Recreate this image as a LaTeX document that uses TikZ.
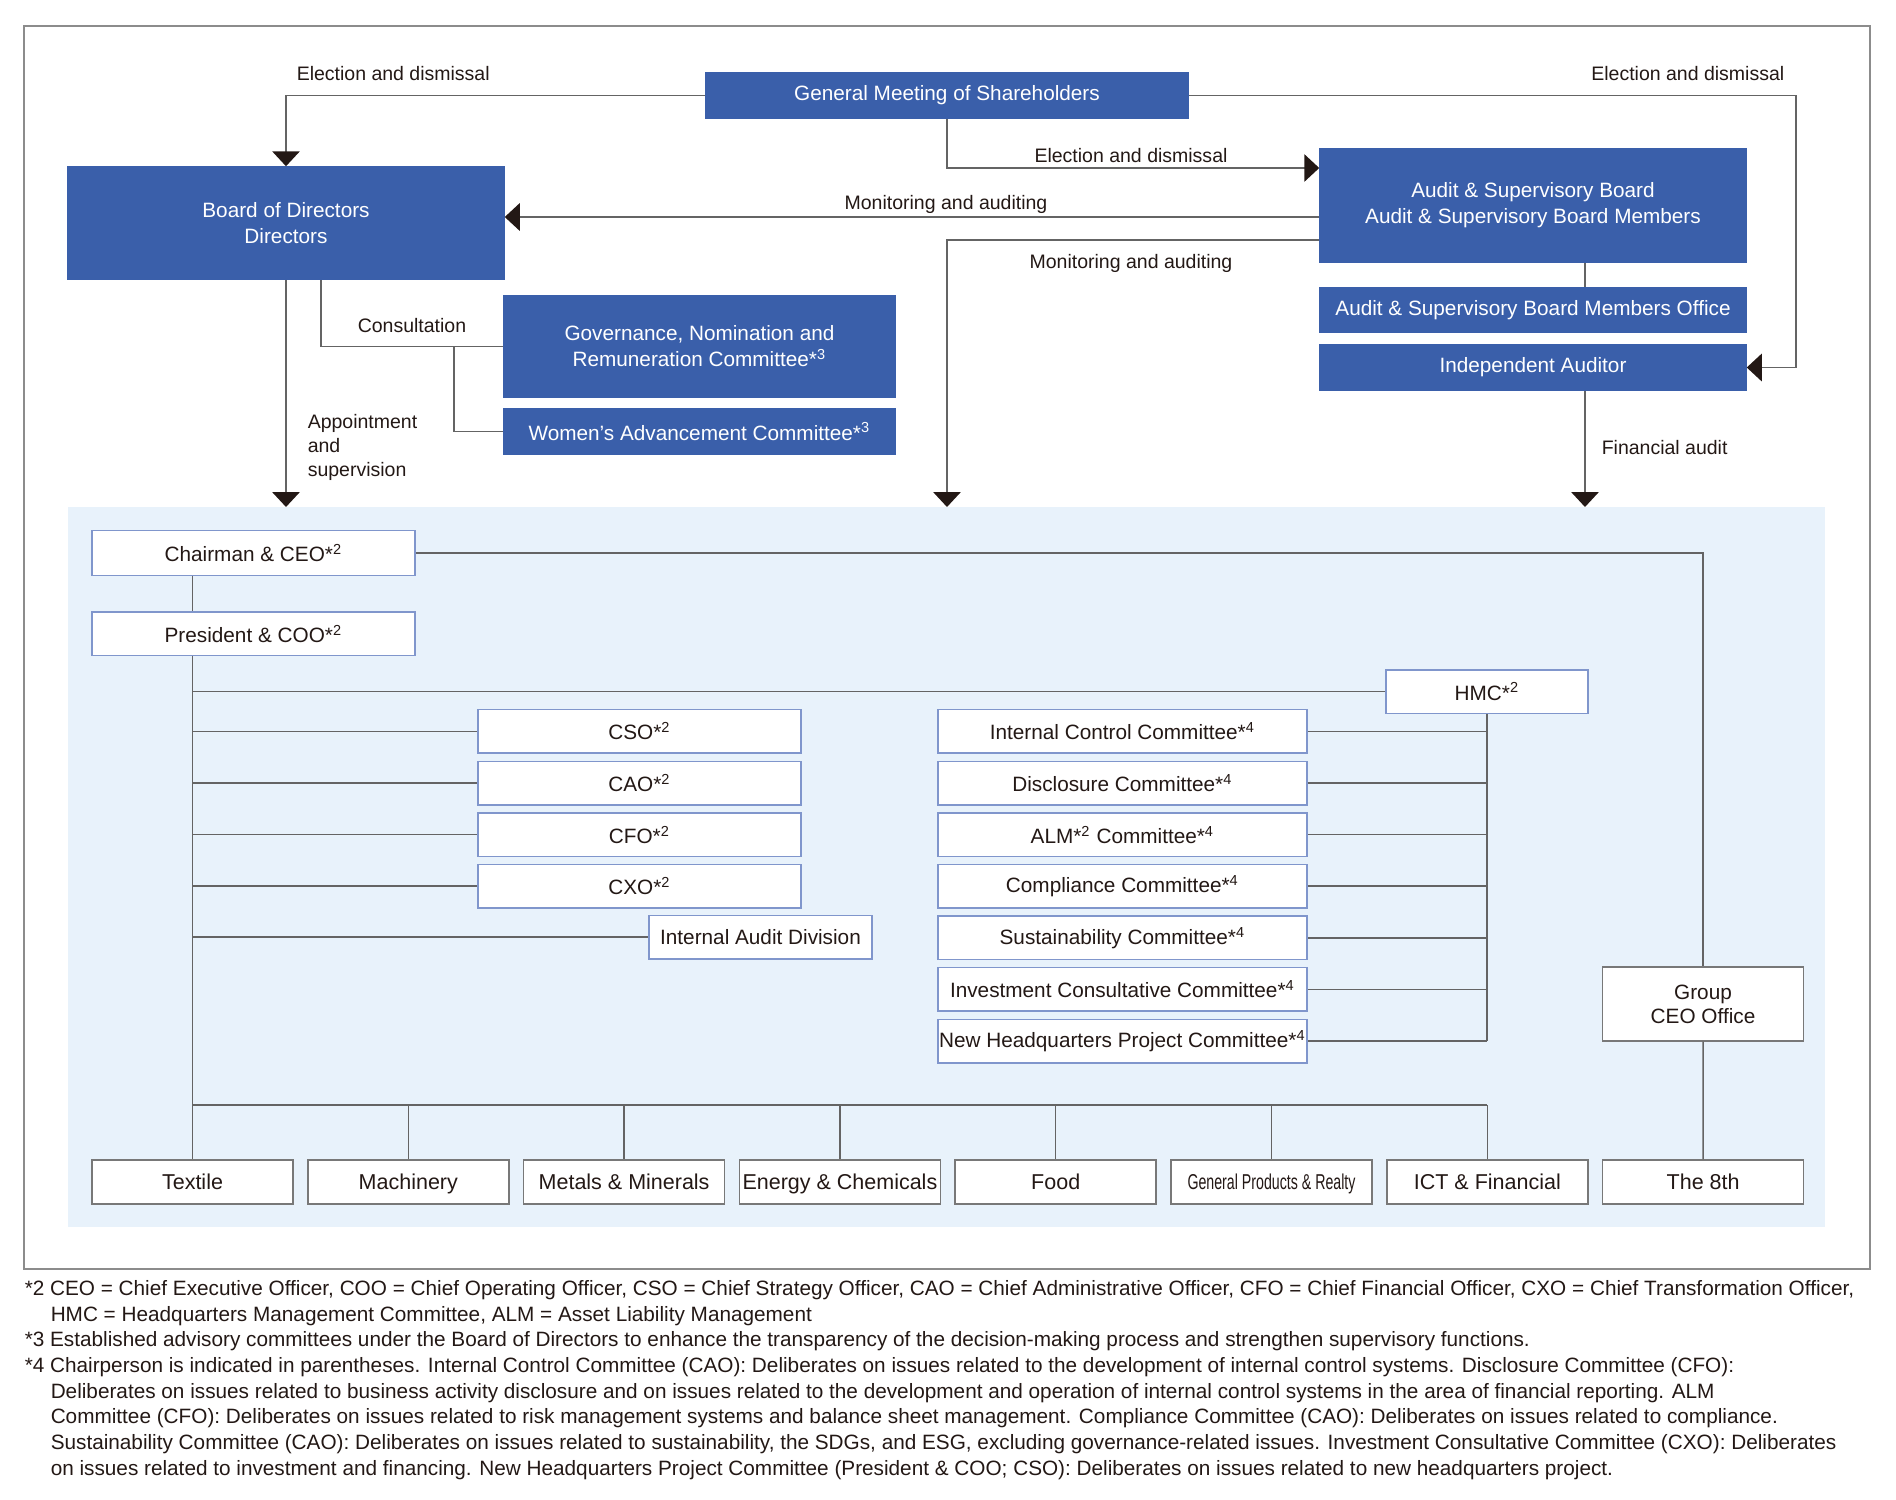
\documentclass[tikz,border=0pt]{standalone}
\usepackage{fontspec}
\setmainfont{Liberation Sans}
\usepackage{graphicx}
\usetikzlibrary{arrows.meta,positioning}
\definecolor{govblue}{RGB}{58,95,170}
\definecolor{regionblue}{RGB}{232,242,251}
\definecolor{linegray}{RGB}{100,100,100}
\definecolor{boxedge}{RGB}{128,150,204}
\definecolor{unitedge}{RGB}{120,120,120}
\definecolor{framegray}{RGB}{140,140,140}
\definecolor{inkdark}{RGB}{35,24,21}
\newcommand{\refmark}[1]{*\textsuperscript{#1}}
\tikzset{
  >=Stealth,
  every picture/.append style={line width=0.6pt},
}
\tikzset{
  bluebox/.style={draw=govblue, fill=govblue, text=white, align=center, inner sep=0pt, font=\fontsize{8.3}{10.4}\selectfont},
  whitebox/.style={draw=boxedge, fill=white, text=inkdark, align=center, inner sep=0pt, font=\fontsize{8.3}{10.4}\selectfont},
  officer/.style={whitebox, minimum width=129.2pt, minimum height=17.4pt},
  committee/.style={whitebox, minimum width=147.6pt, minimum height=17.4pt},
  unitbox/.style={draw=unitedge, fill=white, text=inkdark, align=center, inner sep=0pt, minimum width=80.4pt, minimum height=17.6pt, font=\fontsize{8.6}{10.5}\selectfont},
  division/.style={unitbox, text height=1.6ex, text depth=0.45ex},
  link/.style={draw=linegray},
  arrow/.style={link, -{Triangle[length=6pt, width=11pt, color=inkdark]}},
  lbl/.style={text=inkdark, inner sep=0pt, font=\fontsize{7.8}{9.6}\selectfont},
  fnote/.style={anchor=west, text=inkdark, inner sep=0pt, font=\fontsize{8.3}{10}\selectfont}
}
\begin{document}
\begin{tikzpicture}[x=0.4pt, y=-0.4pt, node distance=2.64pt]
\useasboundingbox (0,0) rectangle (1896,1500);
\draw[framegray] (24,26) rectangle (1870,1269);
\fill[regionblue] (68,507) rectangle (1825,1227);
\coordinate (rtop) at (0,507);
\coordinate (bus) at (0,1105);

% Shareholders, board and auditors
\node[bluebox, minimum width=192.8pt, minimum height=18pt] (gms) at (947,95.5) {General Meeting of Shareholders};
\node[bluebox, minimum width=174.4pt, minimum height=44.8pt] (bod) at (286,223) {Board of Directors\\Directors};
\node[bluebox, minimum width=170.4pt, minimum height=45.2pt] (asb) at (1533,205.5) {Audit \& Supervisory Board\\Audit \& Supervisory Board Members};
\node[bluebox, minimum width=170.4pt, minimum height=18pt, below=9.6pt of asb] (asbmo) {Audit \& Supervisory Board Members Office};
\node[bluebox, minimum width=170.4pt, minimum height=18pt, below=4.4pt of asbmo] (ia) {Independent Auditor};
\node[bluebox, minimum width=156.4pt, minimum height=40.4pt] (gnr) at (699.5,346.5) {Governance, Nomination and\\Remuneration Committee\refmark{3}};
\node[bluebox, minimum width=156.4pt, minimum height=18.4pt, below=4pt of gnr] (wac) {Women’s Advancement Committee\refmark{3}};

\draw[arrow] (gms.west) -| (bod.north);
\draw[arrow] (gms.east) -| ([xshift=19.6pt]ia.east) -- (ia.east);
\draw[arrow] (gms.south) |- ([yshift=15pt]asb.west);
\draw[arrow] ([yshift=-4.6pt]asb.west) -- ([yshift=-4.6pt]asb.west -| bod.east);
\draw[arrow] ([yshift=-13.8pt]asb.west) -| (gms.south |- rtop);
\draw[link] ([xshift=20.8pt]asb.south) -- ([xshift=20.8pt]asbmo.north);
\draw[arrow] ([xshift=20.8pt]ia.south) -- ([xshift=20.8pt]ia.south |- rtop);
\draw[arrow] (bod.south) -- (bod.south |- rtop);
\draw[link] ([xshift=14pt]bod.south) |- (gnr.west);
\draw[link] ([xshift=-19.6pt]gnr.west) |- (wac.west);

\node[lbl, anchor=west] (elecL) at (296,74) {Election and dismissal};
\node[lbl, anchor=east] (elecR) at (1785,74) {Election and dismissal};
\node[lbl] (elecM) at (1131,156) {Election and dismissal};
\node[lbl] (monU) at (946,204) {Monitoring and auditing};
\node[lbl] (monL) at (1131,263) {Monitoring and auditing};
\node[lbl] (consult) at (412,326) {Consultation};
\node[lbl, anchor=west, align=left] (appoint) at (307,447) {Appointment\\and\\supervision};
\node[lbl, anchor=west] (finaudit) at (1601,448) {Financial audit};

% Executive organisation
\node[whitebox, minimum width=129.2pt, minimum height=17.9pt] (chair) at (253.5,553.1) {Chairman \& CEO\refmark{2}};
\node[whitebox, minimum width=129.2pt, minimum height=17.4pt, below=14pt of chair] (pres) {President \& COO\refmark{2}};
\node[whitebox, minimum width=80.8pt, minimum height=17.4pt] (hmc) at (1487,691.5) {HMC\refmark{2}};

\node[officer] (cso) at (639.5,731.4) {CSO\refmark{2}};
\node[officer, below=of cso] (cao) {CAO\refmark{2}};
\node[officer, below=of cao] (cfo) {CFO\refmark{2}};
\node[officer, below=of cfo] (cxo) {CXO\refmark{2}};
\node[whitebox, minimum width=89.2pt, minimum height=17.4pt] (iad) at (760.5,937) {Internal Audit Division};

\node[committee] (icc) at (1122.5,731.4) {Internal Control Committee\refmark{4}};
\node[committee, below=of icc] (disc) {Disclosure Committee\refmark{4}};
\node[committee, below=of disc] (alm) {ALM\refmark{2} Committee\refmark{4}};
\node[committee, below=of alm] (comp) {Compliance Committee\refmark{4}};
\node[committee, below=of comp] (sust) {Sustainability Committee\refmark{4}};
\node[committee, below=of sust] (invest) {Investment Consultative Committee\refmark{4}};
\node[committee, below=of invest] (nhq) {New Headquarters Project Committee\refmark{4}};

\node[unitbox, minimum height=29.5pt, font=\fontsize{8.3}{9.4}\selectfont] (gceo) at (1703,1004.1) {Group\\CEO Office};

% Divisions
\node[division] (textile) at (192.5,1182) {Textile};
\node[division, right=5.32pt of textile] (mach) {Machinery};
\node[division, right=5.32pt of mach] (metal) {Metals \& Minerals};
\node[division, right=5.32pt of metal] (energy) {Energy \& Chemicals};
\node[division, right=5.32pt of energy] (food) {Food};
\node[division, right=5.32pt of food] (gpr) {\scalebox{0.66}[1]{General Products \& Realty}};
\node[division, right=5.32pt of gpr] (ict) {ICT \& Financial};
\node[division, right=5.32pt of ict] (eighth) {The 8th};

\draw[link] (chair.south -| textile) -- (pres.north -| textile);
\draw[link] (pres.south -| textile) -- (textile.north);
\draw[link] (chair.east) -| (gceo.north);
\draw[link] (gceo.south) -- (eighth.north);
\draw[link] (hmc.west -| textile) -- (hmc.west);
\draw[link] (cso.west -| textile) -- (cso.west);
\draw[link] (cao.west -| textile) -- (cao.west);
\draw[link] (cfo.west -| textile) -- (cfo.west);
\draw[link] (cxo.west -| textile) -- (cxo.west);
\draw[link] (iad.west -| textile) -- (iad.west);
\draw[link] (hmc.south) -- (nhq.east -| hmc);
\draw[link] (icc.east) -- (icc.east -| hmc);
\draw[link] (disc.east) -- (disc.east -| hmc);
\draw[link] (alm.east) -- (alm.east -| hmc);
\draw[link] (comp.east) -- (comp.east -| hmc);
\draw[link] (sust.east) -- (sust.east -| hmc);
\draw[link] (invest.east) -- (invest.east -| hmc);
\draw[link] (nhq.east) -- (nhq.east -| hmc);
\draw[link] (bus -| textile) -- (bus -| ict);
\draw[link] (bus -| mach) -- (mach.north);
\draw[link] (bus -| metal) -- (metal.north);
\draw[link] (bus -| energy) -- (energy.north);
\draw[link] (bus -| food) -- (food.north);
\draw[link] (bus -| gpr) -- (gpr.north);
\draw[link] (bus -| ict) -- (ict.north);

% Notes
\node[fnote] (note2) at (24,1290) {*2 CEO = Chief Executive Officer, COO = Chief Operating Officer, CSO = Chief Strategy Officer, CAO = Chief Administrative Officer, CFO = Chief Financial Officer, CXO = Chief Transformation Officer,};
\node[fnote] (note2b) at (50,1315.7) {HMC = Headquarters Management Committee, ALM = Asset Liability Management};
\node[fnote] (note3) at (24,1341.4) {*3 Established advisory committees under the Board of Directors to enhance the transparency of the decision-making process and strengthen supervisory functions.};
\node[fnote] (note4) at (24,1367.1) {*4 Chairperson is indicated in parentheses. Internal Control Committee (CAO): Deliberates on issues related to the development of internal control systems. Disclosure Committee (CFO):};
\node[fnote] (note4b) at (50,1392.8) {Deliberates on issues related to business activity disclosure and on issues related to the development and operation of internal control systems in the area of financial reporting. ALM};
\node[fnote] (note4c) at (50,1418.5) {Committee (CFO): Deliberates on issues related to risk management systems and balance sheet management. Compliance Committee (CAO): Deliberates on issues related to compliance.};
\node[fnote] (note4d) at (50,1444.2) {Sustainability Committee (CAO): Deliberates on issues related to sustainability, the SDGs, and ESG, excluding governance-related issues. Investment Consultative Committee (CXO): Deliberates};
\node[fnote] (note4e) at (50,1469.9) {on issues related to investment and financing. New Headquarters Project Committee (President \& COO; CSO): Deliberates on issues related to new headquarters project.};
\end{tikzpicture}
\end{document}
